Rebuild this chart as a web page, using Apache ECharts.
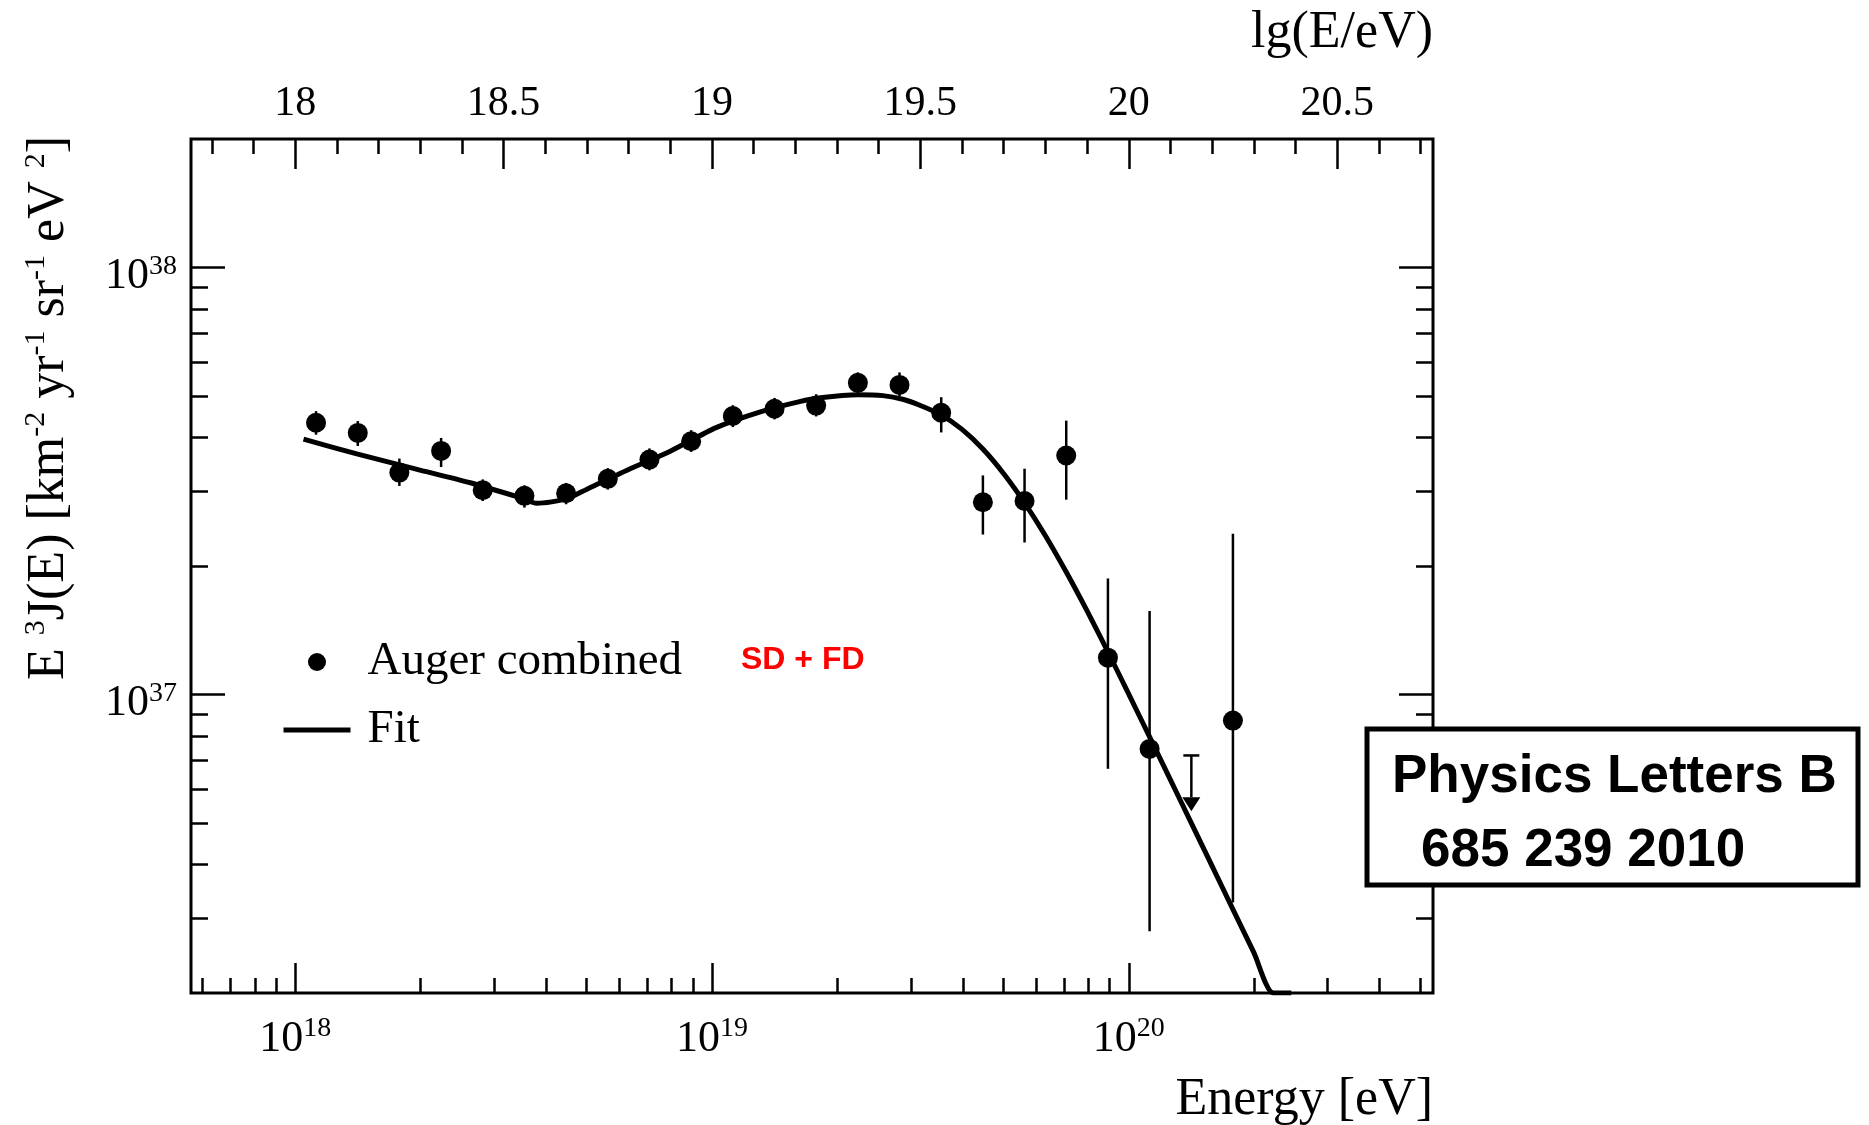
<!DOCTYPE html>
<html>
<head>
<meta charset="utf-8">
<script src="https://cdn.jsdelivr.net/npm/echarts@6/dist/echarts.min.js"></script>
<style>
html,body{margin:0;padding:0;background:#fff;}
#chart{width:1869px;height:1125px;}
</style>
</head>
<body>
<div id="chart"></div>
<script>
// ---------- data ----------
// Auger combined spectrum (bin centres, eV)
const pointEnergy = [1.122e18, 1.413e18, 1.778e18, 2.239e18, 2.818e18, 3.548e18, 4.467e18, 5.623e18,
  7.079e18, 8.913e18, 1.122e19, 1.413e19, 1.778e19, 2.239e19, 2.818e19, 3.548e19, 4.467e19,
  5.623e19, 7.079e19, 8.913e19, 1.122e20, 1.778e20];
// E^3 J(E) [km^-2 yr^-1 sr^-1 eV^2]
const pointFlux = [4.33e37, 4.10e37, 3.31e37, 3.72e37, 3.01e37, 2.92e37, 2.96e37, 3.20e37,
  3.55e37, 3.92e37, 4.49e37, 4.67e37, 4.75e37, 5.37e37, 5.31e37, 4.57e37, 2.82e37,
  2.84e37, 3.63e37, 1.22e37, 7.46e36, 8.69e36];
const errLow = [4.06e37, 3.82e37, 3.08e37, 3.41e37, 2.84e37, 2.74e37, 2.79e37, 3.02e37,
  3.35e37, 3.70e37, 4.23e37, 4.41e37, 4.48e37, 5.00e37, 5.00e37, 4.11e37, 2.37e37,
  2.27e37, 2.86e37, 6.70e36, 2.79e36, 3.26e36];
const errHigh = [4.61e37, 4.37e37, 3.57e37, 3.99e37, 3.19e37, 3.09e37, 3.13e37, 3.39e37,
  3.77e37, 4.16e37, 4.76e37, 4.95e37, 5.05e37, 5.68e37, 5.68e37, 4.97e37, 3.26e37,
  3.38e37, 4.38e37, 1.87e37, 1.57e37, 2.38e37];
// upper limit bin: energy, bar top, arrow tip
const limitEnergy = [1.413e20];
const limitTop = [7.2e36];
const limitTip = [5.33e36];

// Fit curve
const fitEnergy = [1.047e18, 1.413e18, 1.950e18, 2.630e18, 3.467e18, 3.802e18, 4.467e18, 5.012e18,
  6.310e18, 7.943e18, 1.023e19, 1.318e19, 1.622e19, 1.820e19, 2.239e19, 2.570e19, 2.884e19,
  3.162e19, 3.548e19, 3.981e19, 4.467e19, 5.012e19, 5.623e19, 6.310e19, 7.079e19, 7.943e19,
  8.913e19, 1.000e20, 1.122e20, 1.259e20, 1.413e20, 1.585e20, 1.778e20, 1.995e20, 2.223e20, 2.455e20];
const fitFlux = [3.963e37, 3.656e37, 3.373e37, 3.133e37, 2.891e37, 2.805e37, 2.871e37, 3.027e37,
  3.365e37, 3.715e37, 4.217e37, 4.603e37, 4.853e37, 4.955e37, 5.035e37, 5.012e37, 4.909e37,
  4.753e37, 4.519e37, 4.178e37, 3.758e37, 3.289e37, 2.812e37, 2.355e37, 1.936e37, 1.570e37,
  1.259e37, 1.002e37, 7.962e36, 6.310e36, 5.000e36, 3.963e36, 3.141e36, 2.489e36, 2.000e36, 2.000e36];

// Axis ranges and ticks
const energyMin = 5.623e17, energyMax = 5.370e20;   // bottom axis (eV)
const lgMin = 17.75, lgMax = 20.73;                  // top axis lg(E/eV)
const fluxMin = 2e36, fluxMax = 2e38;
const energyMajorTicks = [1e18, 1e19, 1e20];
const energyMinorTicks = [6e17, 7e17, 8e17, 9e17,
  2e18, 3e18, 4e18, 5e18, 6e18, 7e18, 8e18, 9e18,
  2e19, 3e19, 4e19, 5e19, 6e19, 7e19, 8e19, 9e19,
  2e20, 3e20, 4e20, 5e20];
const lgMajorTicks = [18, 18.5, 19, 19.5, 20, 20.5];
const lgMinorTicks = [17.8, 17.9, 18.1, 18.2, 18.3, 18.4, 18.6, 18.7, 18.8, 18.9,
  19.1, 19.2, 19.3, 19.4, 19.6, 19.7, 19.8, 19.9, 20.1, 20.2, 20.3, 20.4, 20.6, 20.7];
const fluxMajorTicks = [1e37, 1e38];
const fluxMinorTicks = [3e36, 4e36, 5e36, 6e36, 7e36, 8e36, 9e36,
  2e37, 3e37, 4e37, 5e37, 6e37, 7e37, 8e37, 9e37];

// ---------- chart ----------
const SERIF = '"Liberation Serif", "DejaVu Serif", serif';
const SANS = '"Liberation Sans", Arial, sans-serif';
const TICK = {color: '#000', width: 2.5};

const powRich = {
  b: {fontFamily: SERIF, fontSize: 44, color: '#000', lineHeight: 48},
  s: {fontFamily: SERIF, fontSize: 28, color: '#000', lineHeight: 24, verticalAlign: 'top'}
};
function powLabel(v) { return '{b|10}{s|' + Math.round(Math.log10(v)) + '}'; }

function axisBase(extra) {
  return Object.assign({
    axisLine: {show: false, onZero: false},
    splitLine: {show: false},
    minorTick: {show: false},
    axisLabel: {show: false}
  }, extra);
}

const chart = echarts.init(document.getElementById('chart'), null, {renderer: 'canvas'});
const option = {
  backgroundColor: '#fff',
  animation: false,
  grid: {left: 191, right: 436, top: 139, bottom: 132, show: true,
    borderColor: '#000', borderWidth: 3, backgroundColor: 'transparent', containLabel: false},
  legend: {
    orient: 'vertical', left: 281, top: 638, padding: 0, itemWidth: 67, itemHeight: 18, itemGap: 20,
    selectedMode: false,
    textStyle: {fontFamily: SERIF, fontSize: 47, color: '#000', lineHeight: 48, padding: [0, 0, 0, 12]},
    data: [
      {name: 'Auger combined', icon: 'circle', itemStyle: {color: '#000', opacity: 1}},
      {name: 'Fit', itemStyle: {opacity: 0}, lineStyle: {color: '#000', width: 5, opacity: 1}}
    ]
  },
  xAxis: [
    axisBase({type: 'log', logBase: 10, position: 'bottom', min: energyMin, max: energyMax,
      axisTick: {show: true, inside: true, length: 30, customValues: energyMajorTicks, lineStyle: TICK},
      axisLabel: {show: true, customValues: energyMajorTicks, margin: 22, formatter: powLabel, rich: powRich}}),
    axisBase({type: 'log', logBase: 10, position: 'bottom', min: energyMin, max: energyMax,
      axisTick: {show: true, inside: true, length: 15, customValues: energyMinorTicks, lineStyle: TICK}}),
    axisBase({type: 'value', position: 'top', min: lgMin, max: lgMax,
      axisTick: {show: true, inside: true, length: 30, customValues: lgMajorTicks, lineStyle: TICK},
      axisLabel: {show: true, customValues: lgMajorTicks, margin: 12, fontFamily: SERIF, fontSize: 42,
        lineHeight: 46, color: '#000', formatter: v => String(v)}}),
    axisBase({type: 'value', position: 'top', min: lgMin, max: lgMax,
      axisTick: {show: true, inside: true, length: 15, customValues: lgMinorTicks, lineStyle: TICK}})
  ],
  yAxis: [
    axisBase({type: 'log', logBase: 10, position: 'left', min: fluxMin, max: fluxMax,
      axisTick: {show: true, inside: true, length: 34, customValues: fluxMajorTicks, lineStyle: TICK},
      axisLabel: {show: true, customValues: fluxMajorTicks, margin: 14, formatter: powLabel, rich: powRich,
        padding: [18, 0, 0, 0]}}),
    axisBase({type: 'log', logBase: 10, position: 'left', min: fluxMin, max: fluxMax,
      axisTick: {show: true, inside: true, length: 17, customValues: fluxMinorTicks, lineStyle: TICK}}),
    axisBase({type: 'log', logBase: 10, position: 'right', min: fluxMin, max: fluxMax,
      axisTick: {show: true, inside: true, length: 34, customValues: fluxMajorTicks, lineStyle: TICK}}),
    axisBase({type: 'log', logBase: 10, position: 'right', min: fluxMin, max: fluxMax,
      axisTick: {show: true, inside: true, length: 17, customValues: fluxMinorTicks, lineStyle: TICK}})
  ],
  series: [
    {
      name: 'Error bars', type: 'custom', xAxisIndex: 0, yAxisIndex: 0, z: 2,
      data: pointEnergy.map((e, i) => [e, errLow[i], errHigh[i]]),
      encode: {x: 0, y: [1, 2]},
      renderItem: function (params, api) {
        const x = api.value(0);
        const p1 = api.coord([x, api.value(1)]);
        const p2 = api.coord([x, api.value(2)]);
        return {type: 'line', shape: {x1: p1[0], y1: p1[1], x2: p2[0], y2: p2[1]},
          style: {stroke: '#000', lineWidth: 2.5}};
      }
    },
    {
      name: 'Upper limit', type: 'custom', xAxisIndex: 0, yAxisIndex: 0, z: 2,
      data: limitEnergy.map((e, i) => [e, limitTop[i], limitTip[i]]),
      encode: {x: 0, y: [1, 2]},
      renderItem: function (params, api) {
        const x = api.value(0);
        const top = api.coord([x, api.value(1)]);
        const tip = api.coord([x, api.value(2)]);
        const h = 14, w = 9;
        return {type: 'group', children: [
          {type: 'line', shape: {x1: top[0] - 8, y1: top[1], x2: top[0] + 8, y2: top[1]},
            style: {stroke: '#000', lineWidth: 2.5}},
          {type: 'line', shape: {x1: top[0], y1: top[1], x2: tip[0], y2: tip[1] - h},
            style: {stroke: '#000', lineWidth: 2.5}},
          {type: 'polygon', shape: {points: [[tip[0] - w, tip[1] - h], [tip[0] + w, tip[1] - h], [tip[0], tip[1]]]},
            style: {fill: '#000'}}
        ]};
      }
    },
    {
      name: 'Fit', type: 'line', xAxisIndex: 0, yAxisIndex: 0, z: 3,
      data: fitEnergy.map((e, i) => [e, fitFlux[i]]),
      symbol: 'none', showSymbol: false, smooth: 0.25,
      lineStyle: {color: '#000', width: 5}, itemStyle: {color: '#000'}
    },
    {
      name: 'Auger combined', type: 'scatter', xAxisIndex: 0, yAxisIndex: 0, z: 4,
      data: pointEnergy.map((e, i) => [e, pointFlux[i]]),
      symbol: 'circle', symbolSize: 20, itemStyle: {color: '#000', opacity: 1}
    }
  ],
  graphic: [
    {type: 'text', x: 49, y: 136, rotation: Math.PI / 2, z: 100,
      style: {text: '{a|E }{s|3}{a|J(E) [km}{s|-2}{a| yr}{s|-1}{a| sr}{s|-1}{a| eV }{s|2}{a|]}',
        align: 'right', verticalAlign: 'middle',
        rich: {a: {fontFamily: SERIF, fontSize: 52, fill: '#000', lineHeight: 56},
               s: {fontFamily: SERIF, fontSize: 30, fill: '#000', lineHeight: 28, verticalAlign: 'top'}}}},
    {type: 'text', x: 1433, y: 33, z: 100,
      style: {text: 'lg(E/eV)', fontFamily: SERIF, fontSize: 52, fill: '#000', align: 'right', verticalAlign: 'middle'}},
    {type: 'text', x: 1433, y: 1100, z: 100,
      style: {text: 'Energy [eV]', fontFamily: SERIF, fontSize: 52, fill: '#000', align: 'right', verticalAlign: 'middle'}},
    {type: 'text', x: 741, y: 660, z: 100,
      style: {text: 'SD + FD', fontFamily: SANS, fontWeight: 'bold', fontSize: 32, fill: '#ff0000', align: 'left', verticalAlign: 'middle'}},
    {type: 'rect', z: 100, shape: {x: 1367, y: 729, width: 491, height: 156},
      style: {fill: '#fff', stroke: '#000', lineWidth: 5}},
    {type: 'text', x: 1392, y: 777, z: 101,
      style: {text: 'Physics Letters B', fontFamily: SANS, fontWeight: 'bold', fontSize: 53, fill: '#000', align: 'left', verticalAlign: 'middle'}},
    {type: 'text', x: 1421, y: 851, z: 101,
      style: {text: '685 239 2010', fontFamily: SANS, fontWeight: 'bold', fontSize: 53, fill: '#000', align: 'left', verticalAlign: 'middle'}}
  ]
};
chart.setOption(option);
</script>
</body>
</html>
